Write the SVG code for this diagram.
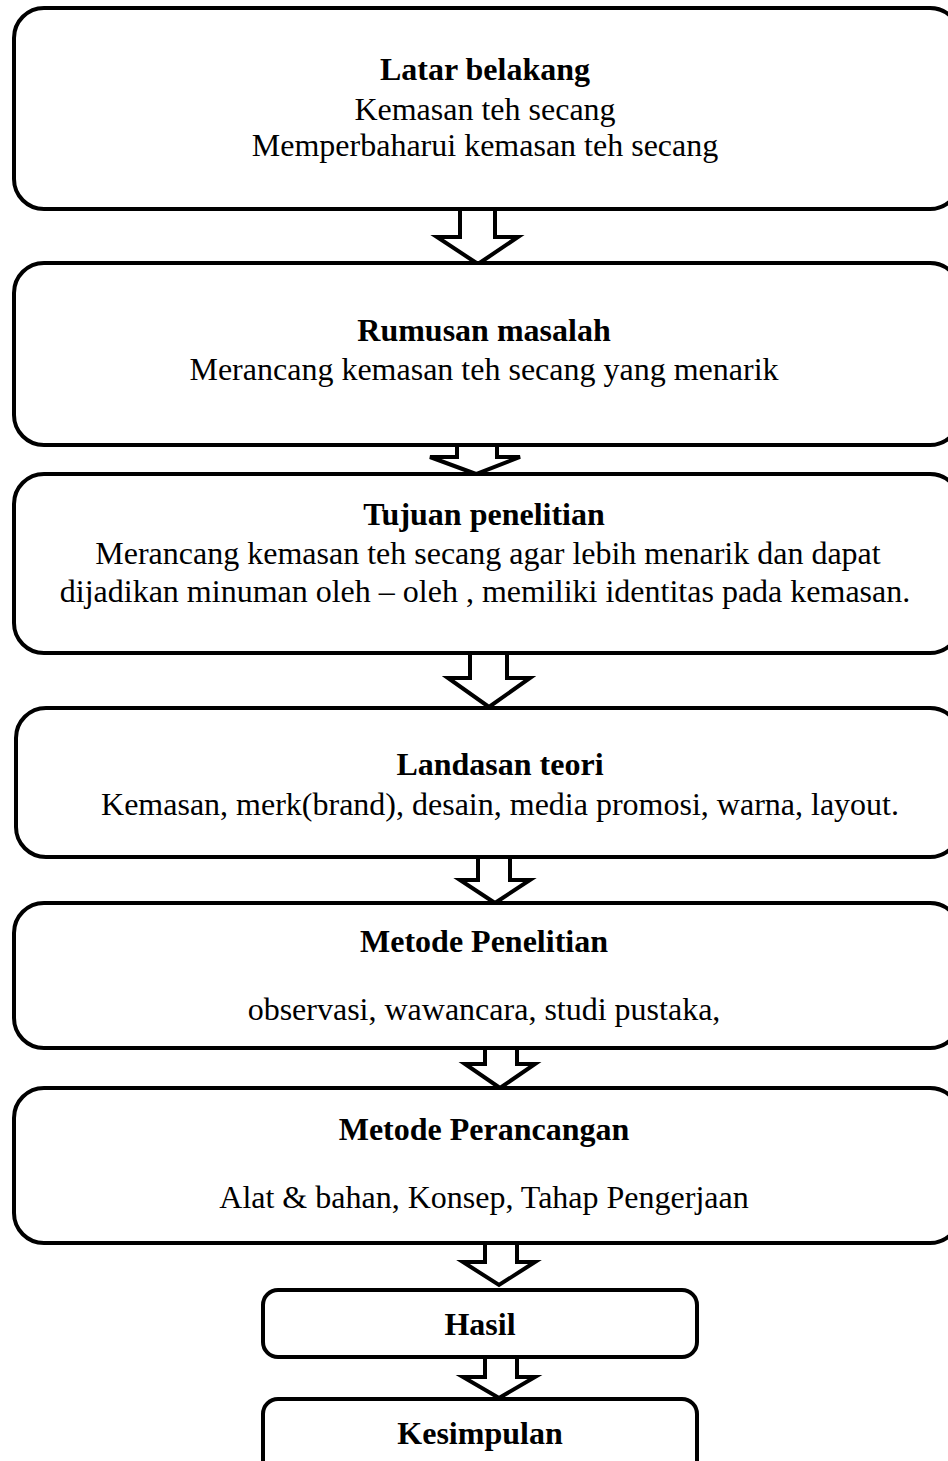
<svg xmlns="http://www.w3.org/2000/svg" width="948" height="1461" viewBox="0 0 948 1461">
<style>
.box{fill:#fff;stroke:#000;stroke-width:4}
.arr{fill:#fff;stroke:#000;stroke-width:4;stroke-linejoin:miter}
text{font-family:"Liberation Serif","Times New Roman",serif;font-size:32px;fill:#000;text-anchor:middle}
.b{font-weight:bold}
</style>
<rect width="948" height="1461" fill="#fff"/>
<g id="connectors">
<polygon class="arr" points="460,209 495,209 495,237 518,237 478,264 437,237 460,237"/>
<polygon class="arr" points="457,445 497,445 497,457 520,457 476,474 430,457 457,457"/>
<polygon class="arr" points="470,653 507,653 507,678 530,678 489,707 448,678 470,678"/>
<polygon class="arr" points="478,857 510,857 510,880 530,880 495,903 460,880 478,880"/>
<polygon class="arr" points="485,1048 517,1048 517,1064 535,1064 500,1088 465,1064 485,1064"/>
<polygon class="arr" points="485,1243 517,1243 517,1262 535,1262 499,1285 463,1262 485,1262"/>
<polygon class="arr" points="485,1357 517,1357 517,1377 535,1377 499,1398 463,1377 485,1377"/>
</g>
<g id="latar">
<rect class="box" x="14" y="8" width="946" height="201" rx="30"/>
<text class="b" x="485" y="80">Latar belakang</text>
<text x="485" y="120">Kemasan teh secang</text>
<text x="485" y="156">Memperbaharui kemasan teh secang</text>
</g>
<g id="rumusan">
<rect class="box" x="14" y="263" width="946" height="182" rx="30"/>
<text class="b" x="484" y="341">Rumusan masalah</text>
<text x="484" y="380">Merancang kemasan teh secang yang menarik</text>
</g>
<g id="tujuan">
<rect class="box" x="14" y="474" width="946" height="179" rx="30"/>
<text class="b" x="484" y="525">Tujuan penelitian</text>
<text x="488" y="564">Merancang kemasan teh secang agar lebih menarik dan dapat</text>
<text x="485" y="602">dijadikan minuman oleh – oleh , memiliki identitas pada kemasan.</text>
</g>
<g id="landasan">
<rect class="box" x="16" y="708" width="944" height="149" rx="30"/>
<text class="b" x="500" y="775">Landasan teori</text>
<text x="500" y="815">Kemasan, merk(brand), desain, media promosi, warna, layout.</text>
</g>
<g id="metode-penelitian">
<rect class="box" x="14" y="903" width="946" height="145" rx="30"/>
<text class="b" x="484" y="952">Metode Penelitian</text>
<text x="484" y="1020">observasi, wawancara, studi pustaka,</text>
</g>
<g id="metode-perancangan">
<rect class="box" x="14" y="1088" width="946" height="155" rx="30"/>
<text class="b" x="484" y="1140">Metode Perancangan</text>
<text x="484" y="1208">Alat &amp; bahan, Konsep, Tahap Pengerjaan</text>
</g>
<g id="hasil">
<rect class="box" x="263" y="1290" width="434" height="67" rx="15"/>
<text class="b" x="480" y="1335">Hasil</text>
</g>
<g id="kesimpulan">
<rect class="box" x="263" y="1399" width="434" height="80" rx="15"/>
<text class="b" x="480" y="1444">Kesimpulan</text>
</g>
</svg>
